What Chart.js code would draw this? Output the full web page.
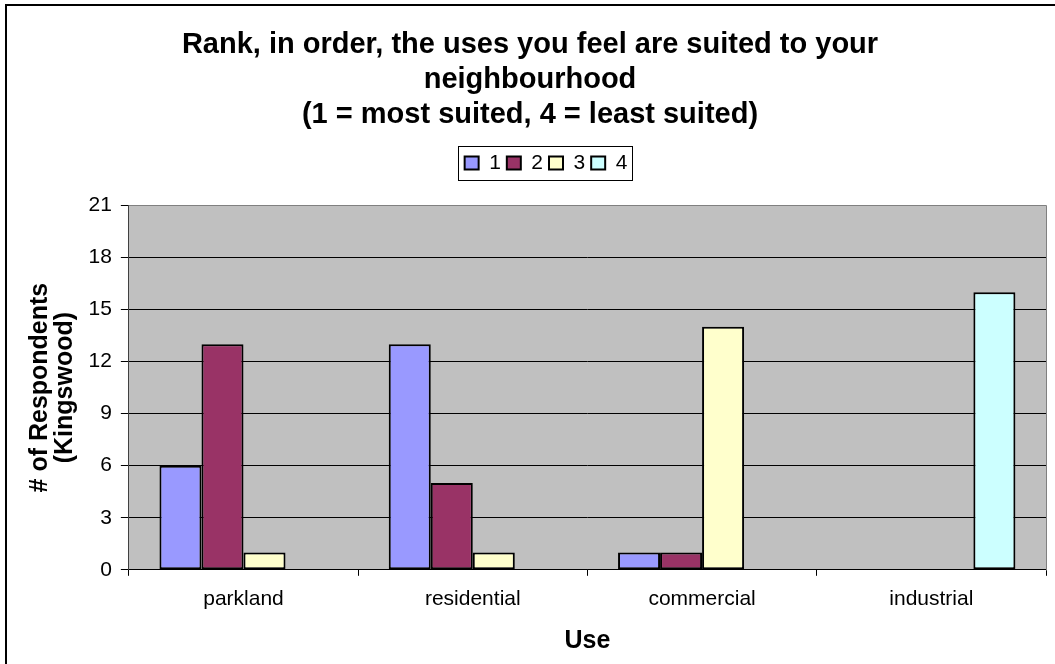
<!DOCTYPE html>
<html lang="en">
<head>
    <meta charset="UTF-8">
    <title>Rank, in order, the uses you feel are suited to your neighbourhood</title>
    <script src="https://cdn.jsdelivr.net/npm/chart.js@4"></script>
    <style>
        body { margin: 0; background: #fff; }
        #rankChart { display: block; }
    </style>
</head>
<body>
<canvas id="rankChart" width="1055" height="664"></canvas>
<script>
    // values
    const uses = ['parkland', 'residential', 'commercial', 'industrial'];
    const rank1 = [6, 13, 1, null];
    const rank2 = [13, 5, 1, null];
    const rank3 = [1, 1, 14, null];
    const rank4 = [null, null, null, 16];
    const yTicks = [0, 3, 6, 9, 12, 15, 18, 21];

    const FONT = "'Liberation Sans', Arial, sans-serif";

    // Excel-ish frame, grey plot area, boxed legend
    const excelLook = {
        id: 'excelLook',
        afterInit(chart) {
            // leave room between the legend and the plot
            const lg = chart.legend;
            const fit = lg.fit;
            lg.fit = function () {
                fit.call(this);
                this.height += 22;
            };
        },
        afterLayout(chart) {
            // legend sits a little right of the title in the original
            chart.legend.left += 16;
            chart.legend.right += 16;
        },
        beforeDraw(chart) {
            const c = chart.ctx;
            const a = chart.chartArea;
            c.save();
            c.fillStyle = '#fff';
            c.fillRect(0, 0, chart.width, chart.height);
            c.fillStyle = '#C0C0C0';
            c.fillRect(a.left, a.top, a.right - a.left, a.bottom - a.top);
            c.restore();
        },
        afterDatasetsDraw(chart) {
            const c = chart.ctx;
            const a = chart.chartArea;
            c.save();
            c.strokeStyle = '#808080';
            c.lineWidth = 1;
            c.beginPath();
            c.moveTo(Math.round(a.left) + 0.5, Math.round(a.top) + 0.5);
            c.lineTo(Math.round(a.right) + 0.5, Math.round(a.top) + 0.5);
            c.lineTo(Math.round(a.right) + 0.5, Math.round(a.bottom) + 0.5);
            c.stroke();
            c.restore();
        },
        afterDraw(chart) {
            const c = chart.ctx;
            c.save();
            // outer chart border (runs off the right and bottom)
            c.strokeStyle = '#000';
            c.lineWidth = 2;
            c.strokeRect(6, 5, 2000, 2000);
            // legend box
            const hb = chart.legend.legendHitBoxes;
            if (hb && hb.length) {
                const first = hb[0], last = hb[hb.length - 1];
                const x0 = Math.round(first.left - 7) + 0.5;
                const x1 = Math.round(last.left + last.width + 5) + 0.5;
                const y0 = Math.round(first.top - 6) + 0.5;
                const y1 = Math.round(first.top + first.height + 7) + 0.5;
                c.lineWidth = 1;
                c.strokeStyle = '#000';
                c.strokeRect(x0, y0, x1 - x0, y1 - y0);
            }
            c.restore();
        }
    };

    const ctx = document.getElementById('rankChart').getContext('2d');
    const rankChart = new Chart(ctx, {
        type: 'bar',
        data: {
            labels: uses,
            datasets: [
                { label: '1', data: rank1, backgroundColor: '#9999FF' },
                { label: '2', data: rank2, backgroundColor: '#993366' },
                { label: '3', data: rank3, backgroundColor: '#FFFFCC' },
                { label: '4', data: rank4, backgroundColor: '#CCFFFF' }
            ]
        },
        options: {
            responsive: false,
            animation: false,
            devicePixelRatio: 1,
            layout: { padding: { left: 14, right: 9, top: 0, bottom: 0 } },
            datasets: {
                bar: {
                    borderColor: '#000',
                    borderWidth: 2,
                    borderSkipped: false,
                    categoryPercentage: 0.733,
                    barPercentage: 1
                }
            },
            plugins: {
                title: {
                    display: true,
                    text: ['Rank, in order, the uses you feel are suited to your', 'neighbourhood', '(1 = most suited, 4 = least suited)'],
                    color: '#000',
                    font: { family: FONT, size: 29, weight: 'bold', lineHeight: 1.2 },
                    padding: { top: 28, bottom: 14 }
                },
                legend: {
                    display: true,
                    position: 'top',
                    labels: {
                        color: '#000',
                        font: { family: FONT, size: 21 },
                        boxWidth: 14,
                        boxHeight: 13,
                        padding: 6
                    }
                },
                tooltip: { enabled: false }
            },
            scales: {
                x: {
                    offset: true,
                    grid: {
                        offset: true,
                        drawOnChartArea: false,
                        tickLength: 6,
                        color: '#000'
                    },
                    border: { color: '#000', width: 1 },
                    ticks: {
                        color: '#000',
                        font: { family: FONT, size: 21 },
                        padding: 11
                    },
                    title: {
                        display: true,
                        text: 'Use',
                        color: '#000',
                        font: { family: FONT, size: 25, weight: 'bold', lineHeight: 1.2 },
                        padding: { top: 3, bottom: 8 }
                    }
                },
                y: {
                    min: 0,
                    max: 21,
                    afterBuildTicks(scale) {
                        scale.ticks = yTicks.map(v => ({ value: v }));
                    },
                    grid: {
                        color: c => (c.tick && c.tick.value === 21 ? '#808080' : '#000'),
                        tickColor: '#000',
                        tickLength: 8
                    },
                    border: { color: '#404040', width: 1 },
                    ticks: {
                        color: '#000',
                        font: { family: FONT, size: 21 },
                        padding: 9
                    },
                    title: {
                        display: true,
                        text: ['# of Respondents', '(Kingswood)'],
                        color: '#000',
                        font: { family: FONT, size: 25, weight: 'bold', lineHeight: 1 },
                        padding: { top: 13.5, bottom: 2 }
                    }
                }
            }
        },
        plugins: [excelLook]
    });
</script>
</body>
</html>
